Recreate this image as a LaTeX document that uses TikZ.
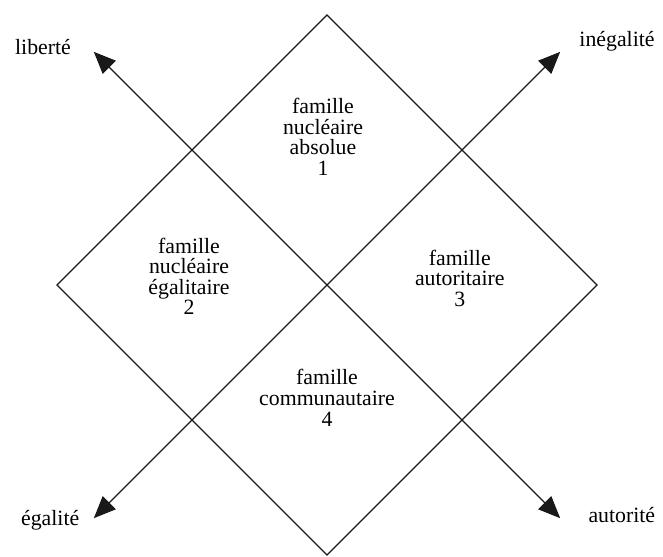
\documentclass[tikz,border=0pt]{standalone}
\usepackage{fontspec}
\setmainfont{Liberation Serif}
\usetikzlibrary{arrows.meta}
\tikzset{famille/.style={align=center,font=\fontsize{15.5}{14.6}\selectfont,inner sep=1pt},
  pole/.style={font=\fontsize{15.5}{15}\selectfont,inner sep=1pt},
  trait/.style={line width=0.9pt,black!90},
  arr/.style={trait,{Triangle[length=5.5mm,width=4.6mm]}-{Triangle[length=5.5mm,width=4.6mm]}}}

\begin{document}
\begin{tikzpicture}
\useasboundingbox (-8.175,-6.775) rectangle (8.4,7.125);
\coordinate (N) at (0,6.75);
\coordinate (E) at (6.75,0);
\coordinate (S) at (0,-6.75);
\coordinate (W) at (-6.75,0);
\draw[trait] (N) -- (E) -- (S) -- (W) -- cycle;
\coordinate (lib) at (-5.83,5.83);
\coordinate (aut) at (5.83,-5.83);
\coordinate (ega) at (-5.83,-5.83);
\coordinate (ineg) at (5.83,5.83);
\draw[arr] (lib) -- (aut);
\draw[arr] (ega) -- (ineg);
\node[pole] (tlib) at (-7.1,5.95) {liberté};
\node[pole] (tineg) at (7.25,6.1) {inégalité};
\node[pole] (tega) at (-6.92,-5.87) {égalité};
\node[pole] (taut) at (7.37,-5.75) {autorité};
\node[famille] (f1) at (-0.1,3.7) {famille\\nucléaire\\absolue\\1};
\node[famille] (f2) at (-3.45,0.22) {famille\\nucléaire\\égalitaire\\2};
\node[famille] (f3) at (3.32,0.17) {famille\\autoritaire\\3};
\node[famille] (f4) at (0,-2.82) {famille\\communautaire\\4};
\end{tikzpicture}
\end{document}
